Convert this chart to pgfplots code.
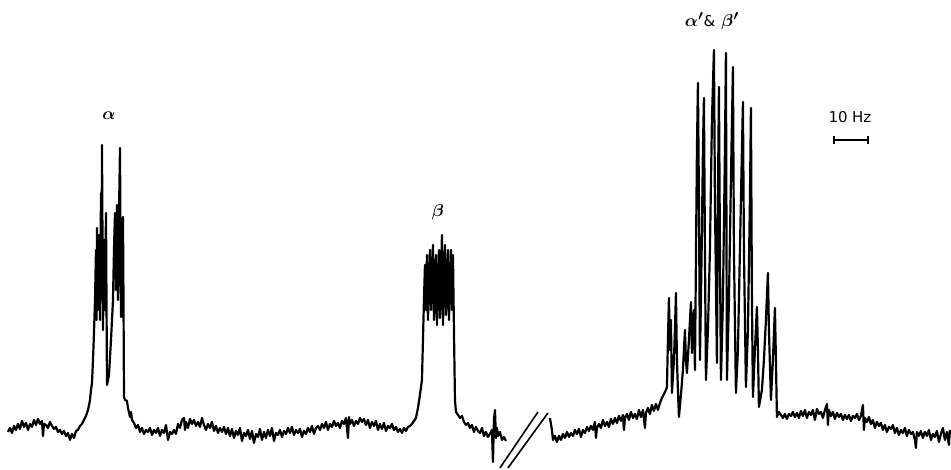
\documentclass[border=0pt]{standalone}
\usepackage{fontspec}
\setmainfont{DejaVu Sans}
\usepackage{pgfplots}
\pgfplotsset{compat=1.18}

\begin{document}
\begin{tikzpicture}
\begin{axis}[
  width=951bp, height=470bp, scale only axis,
  xmin=0, xmax=951, ymin=0, ymax=470, y dir=reverse,
  hide axis, clip=false,
]
% invisible frame so the page keeps the full size
\addplot[draw=none] coordinates {(0,0) (951,470)};

% left part of the trace: alpha and beta
\addplot[black, line width=2.2bp, line join=round] coordinates {
(8,432)(10,428)(12,433)(14,426)(16,430)(18,424)(20,429)(22,421)(24,427)(26,423)(28,430)(30,424)(32,427)(34,420)(36,425)(38,419)(40,424)(42,421)(43,436)(44,424)(46,425)(48,428)(50,422)(52,426)(54,429)(56,427)(58,432)(60,430)(62,434)(64,431)(66,436)(68,433)(70,440)(72,434)(74,438)(76,431)(78,430)(80,426)(82,424)(84,420)(86,416)(88,410)(90,400)(91,390)(92,383)(93,360)(94,333)
(95,300)(96,250)(96.5,320)(97,228)(98,310)(99,235)(100,320)(101,193)(101.5,300)(102,145)(103,330)(104,240)(105,310)(106,213)(107,385)
(109,375)(111,340)(113,300)(114,250)(115,213)(116,290)(117,205)(118,300)(119,215)(120,148)(121,317)(122,240)(123,217)(123.5,300)(124,397)
(125,400)(127,401)(128,408)(130,417)(131,412)(132,420)(134,423)(136,428)(138,425)(140,432)(142,428)(144,434)(146,430)(148,432)(150,428)(152,435)(154,430)(156,433)(158,428)(160,436)(162,430)(164,433)(166,425)(168,440)(170,432)(172,434)(174,430)(176,434)(178,424)(180,428)(182,420)(184,418)(185,430)(186,422)(188,428)(190,419)(192,424)(194,420)(196,426)(198,422)(200,427)(202,418)(204,425)(206,430)(208,424)(210,428)(212,422)(214,431)(216,426)(218,433)(220,428)(222,432)(224,427)(226,434)(228,428)(230,436)(232,429)(234,438)(236,431)(238,435)(240,428)(242,441)(244,433)(246,436)(248,430)(250,439)(252,431)(254,443)(256,434)(258,437)(260,429)(262,440)(264,432)(266,438)(268,430)(270,436)(272,428)(274,441)(276,433)(278,435)(280,430)(282,437)(284,431)(286,434)(288,428)(290,433)(292,427)(294,435)(296,430)(298,433)(300,429)(302,437)(304,431)(306,434)(308,428)(310,432)(312,426)(314,434)(316,428)(318,426)(320,430)(322,424)(324,428)(326,422)(328,430)(330,424)(332,427)(334,421)(336,426)(338,423)(340,428)(342,421)(344,424)(346,418)(348,438)(349,417)(350,424)(352,420)(354,426)(356,421)(358,424)(360,418)(362,422)(364,419)(366,425)(368,420)(370,428)(372,422)(374,426)(376,421)(378,430)(380,424)(382,429)(384,423)(386,431)(388,426)(390,428)(392,424)(394,430)(396,427)(398,432)(400,429)(402,433)(404,428)(406,431)(408,427)(410,426)(412,424)(414,421)(416,418)(418,408)(420,395)(422,380)(423,340)
(424,300)(425,265)(426,310)(427,255)(428,320)(430,250)(431,310)(433,245)(434,320)(436,255)(437,325)(439,250)(440,318)(442,235)(443,325)(445,245)(446,315)(448,250)(449,320)(451,250)(452,310)(453,255)(454,330)(455,400)
(456,412)(458,415)(460,418)(462,416)(464,422)(466,425)(468,423)(470,428)(472,425)(474,432)(476,427)(478,431)(480,433)(482,428)(484,436)(486,432)(488,437)(490,434)(492,430)(493,462)(494,420)(495,410)(496,438)(497,428)(498,436)(500,432)(502,440)(504,437)(506,441)
};

% right part of the trace: alpha' and beta'
\addplot[black, line width=2.2bp, line join=round] coordinates {
(550,418)(552,430)(553,440)(555,436)(557,442)(559,436)(561,440)(563,434)(565,438)(567,432)(569,437)(571,433)(573,436)(575,430)(577,434)(579,429)(581,437)(583,430)(585,433)(587,427)(589,431)(591,426)(593,430)(595,422)(596,438)(597,428)(599,424)(601,428)(603,420)(605,426)(607,422)(609,427)(611,419)(613,424)(615,418)(617,423)(619,416)(621,421)(623,415)(624,430)(625,418)(627,414)(629,420)(631,412)(633,418)(635,414)(637,419)(639,410)(641,417)(643,410)(645,428)(646,413)(648,408)(650,414)(652,405)(654,411)(656,404)(658,410)(660,403)(662,398)(664,394)(666,390)(667,387)
(668,340)(669,298)(670,350)(671,320)(672,393)(674,360)(675,330)(676,293)(677,360)(678,390)(679,417)(681,395)(683,370)(685,330)(686,360)(687,373)(689,340)(691,302)(692,353)(693,330)(694,310)(695,370)(696,260)(697,150)(698,83)(699,200)(700,360)(701,300)(702,230)(703,150)(704,98)(705,250)(706,380)(708,330)(710,250)(712,120)(714,50)(715,200)(717,363)(718,200)(719,87)(720,250)(721,380)(723,300)(725,150)(726,53)(727,380)(729,300)(731,180)(733,67)(734,250)(736,393)(738,350)(740,250)(742,150)(743,102)(744,250)(746,387)(748,330)(750,200)(751,108)(752,300)(753,397)(755,350)(757,307)(758,350)(759,407)(762,390)(764,360)(766,320)(768,273)(769,330)(771,400)(773,360)(775,308)(776,360)(777,417)
(779,412)(781,415)(783,418)(785,414)(787,419)(789,414)(791,416)(793,412)(795,417)(797,413)(799,418)(801,411)(803,416)(805,410)(807,418)(809,412)(811,415)(813,410)(815,420)(817,409)(819,414)(821,412)(823,418)(825,410)(827,404)(828,425)(829,410)(831,416)(833,412)(835,419)(837,413)(839,417)(841,414)(843,420)(845,415)(847,419)(849,415)(851,421)(853,416)(855,418)(857,414)(859,420)(861,416)(863,405)(864,430)(865,418)(867,422)(869,417)(871,424)(873,420)(875,428)(877,422)(879,426)(881,423)(883,430)(885,425)(887,432)(889,427)(891,429)(893,425)(895,433)(897,428)(899,435)(901,430)(903,433)(905,428)(907,436)(909,430)(911,434)(913,432)(915,440)(916,448)(917,432)(919,436)(921,431)(923,438)(925,432)(927,436)(929,430)(931,440)(933,434)(935,437)(937,431)(939,442)(941,434)(943,428)(945,440)(947,432)(949,445)(950,430)
};

% break mark
\addplot[black, line width=1.6bp] coordinates {(500,468) (538,412)};
\addplot[black, line width=1.6bp] coordinates {(508,468) (548,413)};

% 10 Hz scale bar
\addplot[black, line width=1.5bp] coordinates {(834,140) (868,140)};
\addplot[black, line width=1.5bp] coordinates {(834,136) (834,144)};
\addplot[black, line width=1.5bp] coordinates {(868,136) (868,144)};

\node[font=\fontsize{15}{18}\selectfont] at (axis cs:850,117) {10 Hz};
\node[font=\fontsize{19}{22}\selectfont\boldmath] at (axis cs:109,116) {$\alpha$};
\node[font=\fontsize{19}{22}\selectfont\boldmath] at (axis cs:438,212) {$\beta$};
\node[font=\fontsize{19}{22}\selectfont\boldmath] at (axis cs:712,21) {$\alpha'${\fontsize{15}{18}\selectfont\&}\,\,$\beta'$};
\end{axis}
\end{tikzpicture}
\end{document}
